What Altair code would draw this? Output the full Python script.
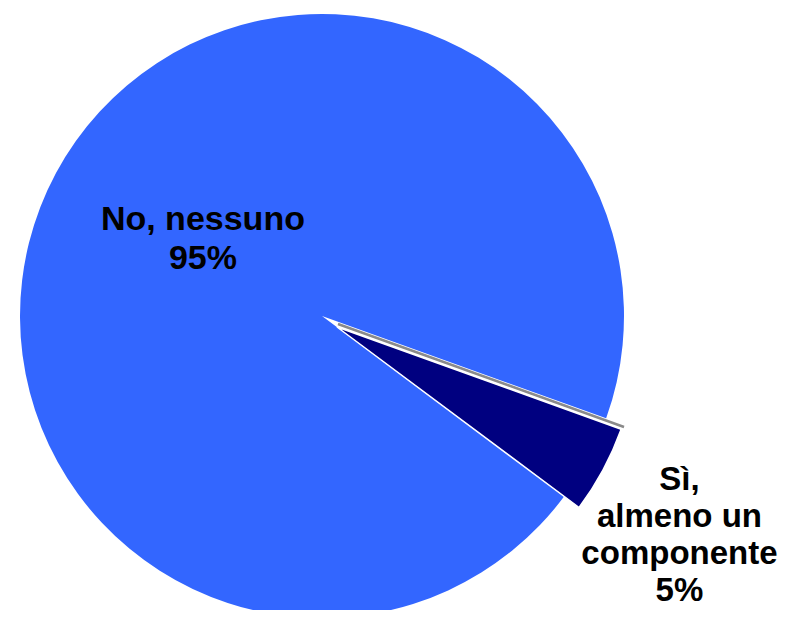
import math
import altair as alt
import pandas as pd

# ---- data ----
categories = ["Sì, almeno un componente", "No, nessuno"]
values = [4.7, 95.3]
label_texts = ["Sì,\nalmeno un\ncomponente\n5%", "No, nessuno\n95%"]
order = [1, 2]

df = pd.DataFrame({"cat": categories, "value": values, "label": label_texts, "order": order})

start_angle = math.radians(109.8)
theta_scale = alt.Scale(domain=[0, 100], range=[start_angle, start_angle + 2 * math.pi])

CX, CY, R = 314, 308, 302

base = (
    alt.Chart(df)
    .transform_window(cum="sum(value)", sort=[alt.SortField("order")], frame=[None, 0])
    .transform_calculate(start="datum.cum - datum.value", mid="datum.cum - datum.value / 2")
)

blue = base.transform_filter(alt.datum.order == 2).mark_arc(
    radius=R, x=CX, y=CY, color="#3366FF"
).encode(
    theta=alt.Theta("start:Q", scale=theta_scale),
    theta2="cum:Q",
)

gray_edge = base.transform_filter(alt.datum.order == 1).mark_arc(
    radius=R + 2, x=CX, y=CY, stroke="#8a8a8a", strokeWidth=2.5, fillOpacity=0,
    xOffset=16, yOffset=8,
).encode(
    theta=alt.Theta("start:Q", scale=theta_scale),
    theta2="start:Q",
)

dark = base.transform_filter(alt.datum.order == 1).mark_arc(
    radius=R, x=CX, y=CY, color="#000080", stroke="white", strokeWidth=1.5,
    xOffset=15, yOffset=11,
).encode(
    theta=alt.Theta("start:Q", scale=theta_scale),
    theta2="cum:Q",
)

text_props = dict(
    font="Liberation Sans", fontWeight="bold", lineBreak="\n",
    align="center", baseline="middle", color="black", x=CX, y=CY,
)

label_in = base.transform_filter(alt.datum.order == 2).mark_text(
    radius=142, dx=6, dy=-29, lineHeight=39, fontSize=34, **text_props
).encode(
    theta=alt.Theta("mid:Q", scale=theta_scale),
    text="label:N",
)

label_out = base.transform_filter(alt.datum.order == 1).mark_text(
    radius=424, dx=-16, dy=-37, lineHeight=37, fontSize=33, **text_props
).encode(
    theta=alt.Theta("mid:Q", scale=theta_scale),
    text="label:N",
)

chart = (
    alt.layer(blue, gray_edge, dark, label_in, label_out)
    .properties(width=772, height=602, autosize=alt.AutoSizeParams(type="none"), padding=0)
    .configure_view(stroke=None)
)

chart.save("out.html", embed_options={"renderer": "svg", "actions": False})
